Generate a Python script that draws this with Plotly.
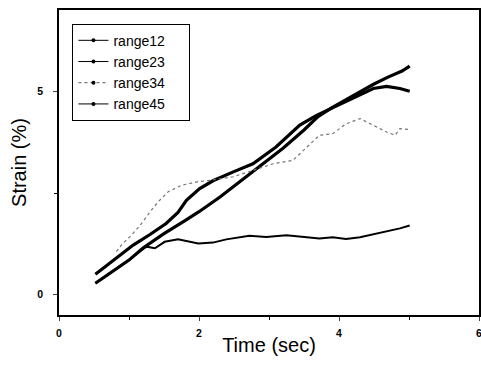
import plotly.graph_objects as go

# Data
x12 = [0.52, 0.8, 1.0, 1.2, 1.5, 1.8, 2.0, 2.3, 2.6, 2.9, 3.2, 3.5, 3.7, 3.9, 4.1, 4.3, 4.5, 4.7, 4.9, 5.01]
y12 = [0.28, 0.6, 0.85, 1.15, 1.5, 1.82, 2.04, 2.4, 2.8, 3.2, 3.6, 4.05, 4.38, 4.6, 4.8, 5.0, 5.18, 5.35, 5.5, 5.62]

x23 = [0.52, 0.8, 1.06, 1.3, 1.53, 1.7, 1.82, 2.01, 2.2, 2.49, 2.77, 3.1, 3.44, 3.68, 3.91, 4.2, 4.49, 4.68, 4.87, 5.01]
y23 = [0.5, 0.88, 1.22, 1.48, 1.75, 2.02, 2.32, 2.61, 2.8, 3.02, 3.22, 3.63, 4.17, 4.41, 4.6, 4.85, 5.07, 5.12, 5.07, 5.0]

x34 = [0.82, 0.89, 1.04, 1.18, 1.32, 1.42, 1.56, 1.75, 1.99, 2.2, 2.49, 2.77, 3.06, 3.34, 3.49, 3.72,
       3.91, 4.1, 4.3, 4.49, 4.68, 4.8, 4.87, 5.01]
y34 = [1.06, 1.22, 1.47, 1.75, 2.08, 2.29, 2.53, 2.69, 2.78, 2.82, 2.9, 3.06, 3.22, 3.3, 3.55, 3.92,
       3.96, 4.2, 4.33, 4.17, 4.0, 3.92, 4.08, 4.06]

x45 = [0.52, 0.8, 1.0, 1.2, 1.25, 1.37, 1.51, 1.7, 1.85, 1.99, 2.2, 2.39, 2.72, 2.96, 3.25, 3.53,
       3.72, 3.91, 4.1, 4.3, 4.49, 4.68, 4.87, 5.01]
y45 = [0.28, 0.6, 0.85, 1.12, 1.18, 1.14, 1.3, 1.36, 1.3, 1.26, 1.28, 1.36, 1.45, 1.42, 1.46, 1.42,
       1.38, 1.41, 1.37, 1.41, 1.48, 1.56, 1.63, 1.70]

names = ["range12", "range23", "range34", "range45"]
x_ticks = [0, 2, 4, 6]
y_ticks = [0, 5]

FONT = "Liberation Sans, Arial, sans-serif"

fig = go.Figure()
series = [
    (x12, y12, dict(color="black", width=3.2)),
    (x23, y23, dict(color="black", width=3.2)),
    (x34, y34, dict(color="#777777", width=1.2, dash="dot")),
    (x45, y45, dict(color="black", width=2)),
]
for (xs, ys, ln), nm in zip(series, names):
    fig.add_trace(go.Scatter(x=xs, y=ys, mode="lines", line=ln, name=nm, showlegend=False))

# legend-only entries
for i, nm in enumerate(names):
    dash = "dot" if i == 2 else "solid"
    col = "#555555" if i == 2 else "black"
    fig.add_trace(go.Scatter(x=[None], y=[None], mode="lines+markers",
                             name=nm + "\u00a0\u00a0\u00a0\u00a0\u00a0",
                             line=dict(color=col, width=1, dash=dash),
                             marker=dict(color="black", size=4)))

fig.update_layout(
    width=481, height=368, autosize=False,
    margin=dict(l=59, r=2, t=10, b=53),
    paper_bgcolor="white", plot_bgcolor="white",
    font=dict(family=FONT, color="black"),
    legend=dict(x=0.032, y=0.955, xanchor="left", yanchor="top",
                bordercolor="black", borderwidth=1, bgcolor="white",
                font=dict(size=14, family=FONT, color="black"),
                itemwidth=30, tracegroupgap=0),
)
fig.update_xaxes(
    range=[0, 6], tickvals=x_ticks, ticks="outside", ticklen=4, tickwidth=1.2,
    tickfont=dict(size=10.5, family=FONT, weight="bold"), showgrid=False, zeroline=False,
    showline=True, linecolor="black", linewidth=1.5, mirror=True,
    automargin=False, ticklabeloverflow="allow", ticklabelstandoff=4,
    minor=dict(tickvals=[1, 3, 5], ticks="outside", ticklen=3, tickcolor="black"),
    title=dict(text="Time (sec)", font=dict(size=20, family=FONT), standoff=0),
)
fig.update_yaxes(
    range=[-0.5, 7], tickvals=y_ticks, ticks="outside", ticklen=4, tickwidth=1.2,
    tickfont=dict(size=10.5, family=FONT, weight="bold"), showgrid=False, zeroline=False,
    showline=True, linecolor="black", linewidth=1.5, mirror=True,
    automargin=False, ticklabeloverflow="allow", ticklabelstandoff=8,
    minor=dict(tickvals=[2.5], ticks="outside", ticklen=3, tickcolor="black"),
    title=dict(text="Strain (%)", font=dict(size=20, family=FONT), standoff=5),
)

fig.write_html("out.html", config={"displayModeBar": False},
               post_script="document.body.style.margin='0';document.body.style.overflow='hidden';")
